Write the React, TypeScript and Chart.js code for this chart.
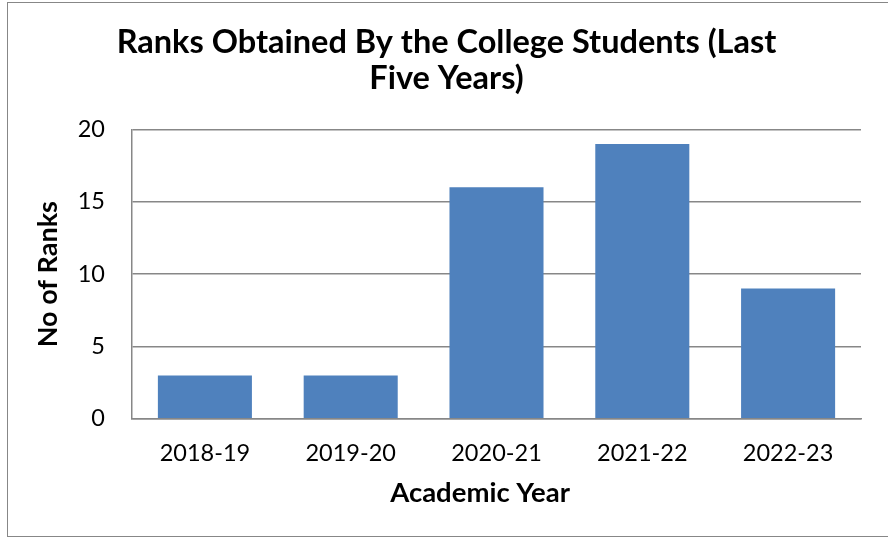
import React, { useEffect, useRef } from "react";
import { Chart, registerables } from "chart.js";

Chart.register(...registerables);

const categories = ["2018-19", "2019-20", "2020-21", "2021-22", "2022-23"];
const ranks = [3, 3, 16, 19, 9];
const titleLines = ["Ranks Obtained By the College Students (Last", "Five Years)"];
const xTitle = "Academic Year";
const yTitle = "No of Ranks";

const FONT = "Lato, 'Open Sans', sans-serif";

export default function App() {
  const ref = useRef<HTMLCanvasElement | null>(null);
  useEffect(() => {
    if (!ref.current) return;
    const chart = new Chart(ref.current, {
      type: "bar",
      data: {
        labels: categories,
        datasets: [
          {
            data: ranks,
            backgroundColor: "#4F81BD",
            borderColor: "#4F81BD",
            borderWidth: 0,
            barPercentage: 1,
            categoryPercentage: 0.645,
          },
        ],
      },
      options: {
        animation: false,
        responsive: false,
        maintainAspectRatio: false,
        layout: { padding: { left: 32, right: 27, top: 25, bottom: 30 } },
        plugins: {
          legend: { display: false },
          tooltip: { enabled: false },
          title: {
            display: true,
            text: titleLines,
            color: "#000",
            font: { family: FONT, size: 32.5, weight: "bold", lineHeight: 1.1 },
            padding: { top: 0, bottom: 33 },
          },
        },
        scales: {
          x: {
            grid: { display: false, drawTicks: false },
            border: { display: true, color: "#878787", width: 1.5 },
            ticks: { color: "#000", font: { family: FONT, size: 23.5 }, padding: 21 },
            title: {
              display: true,
              text: xTitle + "\u00a0\u00a0\u00a0\u00a0\u00a0",
              color: "#000",
              font: { family: FONT, size: 27.5, weight: "bold" },
              padding: { top: -12, bottom: 0 },
            },
          },
          y: {
            min: 0,
            max: 20,
            afterFit: (scale: any) => {
              scale.width = 100;
            },
            ticks: { stepSize: 5, color: "#000", font: { family: FONT, size: 23.5 }, padding: 27 },
            grid: { color: "#878787", lineWidth: 1.5, drawTicks: false },
            border: { display: true, color: "#878787", width: 1.5 },
            title: {
              display: true,
              text: yTitle,
              color: "#000",
              font: { family: FONT, size: 27, weight: "bold" },
              padding: { top: 0, bottom: 13 },
            },
          },
        },
      },
    });
    return () => chart.destroy();
  }, []);
  return (
    <div style={{ position: "fixed", left: 0, top: 0, width: 888, height: 540, background: "#fff" }}>
      <canvas ref={ref} width={888} height={540} style={{ position: "absolute", left: 0, top: 0 }} />
      <div
        style={{
          position: "absolute",
          left: 7,
          top: 2,
          width: 900,
          height: 535,
          border: "1.5px solid #878787",
          boxSizing: "border-box",
          pointerEvents: "none",
        }}
      />
    </div>
  );
}
